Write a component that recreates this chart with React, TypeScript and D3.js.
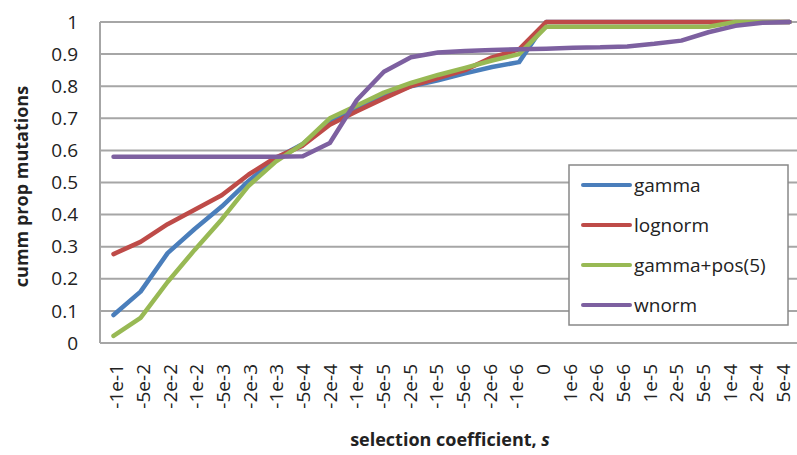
import React from "react";
import * as d3 from "d3";

const categories = ["-1e-1","-5e-2","-2e-2","-1e-2","-5e-3","-2e-3","-1e-3","-5e-4","-2e-4","-1e-4","-5e-5","-2e-5","-1e-5","-5e-6","-2e-6","-1e-6","0","1e-6","2e-6","5e-6","1e-5","2e-5","5e-5","1e-4","2e-4","5e-4"];

const gamma = [0.087,0.16,0.28,0.355,0.425,0.505,0.575,0.62,0.69,0.73,0.77,0.80,0.818,0.84,0.86,0.875,1,1,1,1,1,1,1,1,1,1];
const lognorm = [0.277,0.315,0.37,0.415,0.46,0.525,0.578,0.615,0.68,0.722,0.762,0.80,0.825,0.85,0.89,0.915,1,1,1,1,1,1,1,1,1,1];
const gammaPos = [0.022,0.078,0.19,0.29,0.385,0.49,0.565,0.62,0.70,0.74,0.78,0.81,0.835,0.857,0.88,0.9,0.985,0.985,0.985,0.985,0.985,0.985,0.985,1,1,1];
const wnorm = [0.58,0.58,0.58,0.58,0.58,0.58,0.58,0.582,0.623,0.757,0.845,0.89,0.905,0.91,0.913,0.915,0.917,0.92,0.921,0.924,0.932,0.942,0.968,0.988,0.998,1.0];

const seriesNames = ["gamma","lognorm","gamma+pos(5)","wnorm"];
const seriesValues = [gamma, lognorm, gammaPos, wnorm];
const seriesColors = ["#4a7ebb","#be4b48","#98b954","#7d60a0"];
const yTicks = [0,0.1,0.2,0.3,0.4,0.5,0.6,0.7,0.8,0.9,1];

const W = 797, H = 455;
const left = 100, right = 803, top = 22, bottom = 343;
const FONT = "'Open Sans', sans-serif";

export default function App() {
  const x = d3.scalePoint<string>().domain(categories).range([left, right]).padding(0.5);
  const y = d3.scaleLinear().domain([0, 1]).range([bottom, top]);
  const line = d3.line<number>()
    .x((_, i) => x(categories[i]) as number)
    .y((d) => y(d));
  const n = categories.length;

  const lx = 569, ly = 165, lw = 219, lh = 160;

  return (
    <svg width={W} height={H} style={{ position: "absolute", left: 0, top: 0, background: "#fff" }}>
      <rect x={0} y={0} width={W} height={H} fill="#fff" />
      {yTicks.map((t) => (
        <line key={"g" + t} x1={left} x2={right} y1={y(t)} y2={y(t)} stroke="#a6a6a6" strokeWidth={2} />
      ))}
      <line x1={left} x2={left} y1={top} y2={bottom} stroke="#a6a6a6" strokeWidth={2} />
      {yTicks.map((t) => (
        <text key={"t" + t} x={78} y={y(t)} dy="0.35em" textAnchor="end" fontFamily={FONT} fontSize={19} fill="#222">
          {String(+t.toFixed(1))}
        </text>
      ))}
      {categories.map((c, i) => (
        <text key={"c" + c} transform={`translate(${(x(c) as number) + 3 - (9 * i) / (n - 1)},364) rotate(-90)`} textAnchor="end" dy="0.35em" fontFamily={FONT} fontSize={19} fill="#222">
          {c}
        </text>
      ))}
      {seriesValues.map((vals, i) => (
        <path key={"s" + i} d={line(vals) || ""} fill="none" stroke={seriesColors[i]} strokeWidth={4.5} strokeLinejoin="round" strokeLinecap="round" />
      ))}
      <rect x={lx} y={ly} width={lw} height={lh} fill="#fff" stroke="#888" strokeWidth={1.5} />
      {seriesNames.map((nm, i) => {
        const yy = 185 + i * 40;
        return (
          <g key={"l" + nm}>
            <line x1={583} x2={630} y1={yy} y2={yy} stroke={seriesColors[i]} strokeWidth={4} strokeLinecap="round" />
            <text x={634} y={yy} dy="0.35em" fontFamily={FONT} fontSize={19} fill="#222">{nm}</text>
          </g>
        );
      })}
      <text transform={`translate(22,${(top + bottom) / 2 + 4}) rotate(-90)`} textAnchor="middle" dy="0.35em" fontFamily={FONT} fontSize={18} fontWeight="bold" fill="#222">
        cumm prop mutations
      </text>
      <text x={450} y={440} textAnchor="middle" dy="0.35em" fontFamily={FONT} fontSize={18} fontWeight="bold" fill="#222">
        selection coefficient, <tspan fontStyle="italic">s</tspan>
      </text>
    </svg>
  );
}
